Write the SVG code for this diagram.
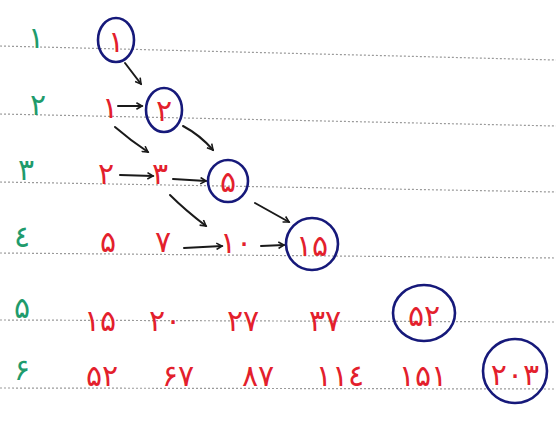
<svg xmlns="http://www.w3.org/2000/svg" width="556" height="425" viewBox="0 0 556 425">
<defs>
<style>
.rule{stroke:#9a9a9a;stroke-width:1.2;stroke-dasharray:2 2;fill:none}
.lbl{font-family:"DejaVu Sans",sans-serif;font-size:30px;fill:#1f9b6c;text-anchor:middle}
.num{font-family:"DejaVu Sans",sans-serif;font-size:30px;fill:#e3202c;text-anchor:middle}
.ring{fill:none;stroke:#16197a;stroke-width:2.6}
.arr{fill:none;stroke:#1a1a1a;stroke-width:2;stroke-linecap:round;marker-end:url(#h)}
</style>
<marker id="h" viewBox="0 0 10 10" refX="8" refY="5" markerWidth="4" markerHeight="4" orient="auto">
<path d="M1,1 L8,5 L1,9" fill="none" stroke="#1a1a1a" stroke-width="2"/>
</marker>
</defs>
<rect width="556" height="425" fill="#ffffff"/>
<g id="rules">
<line class="rule" x1="0" y1="46" x2="556" y2="60"/>
<line class="rule" x1="0" y1="114" x2="556" y2="126"/>
<line class="rule" x1="0" y1="182" x2="556" y2="192"/>
<line class="rule" x1="0" y1="253" x2="556" y2="258"/>
<line class="rule" x1="0" y1="320" x2="556" y2="322"/>
<line class="rule" x1="0" y1="388" x2="556" y2="389"/>
</g>
<g id="labels">
<text class="lbl" x="36" y="48">۱</text>
<text class="lbl" x="38" y="115">۲</text>
<text class="lbl" x="26" y="180">۳</text>
<text class="lbl" x="22" y="247">٤</text>
<text class="lbl" x="22" y="318">۵</text>
<text class="lbl" x="22" y="380">۶</text>
</g>
<g id="connectors">
<path class="arr" d="M125,63 L141,84"/>
<path class="arr" d="M118,106 L142,106"/>
<path class="arr" d="M115,127 Q130,140 148,152"/>
<path class="arr" d="M183,126 Q200,135 213,150"/>
<path class="arr" d="M120,175 L153,176"/>
<path class="arr" d="M173,179 L206,181"/>
<path class="arr" d="M170,195 Q185,210 206,226"/>
<path class="arr" d="M255,203 L289,222"/>
<path class="arr" d="M184,248 L222,246"/>
<path class="arr" d="M261,246 L284,245"/>
</g>
<g id="n1-1"><ellipse class="ring" cx="116" cy="40" rx="18" ry="22"/><text class="num" x="116" y="52">۱</text></g>
<g id="n2-1"><text class="num" x="110" y="118">۱</text></g>
<g id="n2-2"><ellipse class="ring" cx="164" cy="110" rx="18" ry="22"/><text class="num" x="164" y="121">۲</text></g>
<g id="n3-1"><text class="num" x="106" y="184">۲</text></g>
<g id="n3-2"><text class="num" x="160" y="184">۳</text></g>
<g id="n3-3"><ellipse class="ring" cx="228" cy="181" rx="20" ry="21"/><text class="num" x="228" y="192">۵</text></g>
<g id="n4-1"><text class="num" x="108" y="252">۵</text></g>
<g id="n4-2"><text class="num" x="163" y="252">۷</text></g>
<g id="n4-3"><text class="num" x="236" y="253">۱۰</text></g>
<g id="n4-4"><ellipse class="ring" cx="312" cy="244" rx="26" ry="26"/><text class="num" x="312" y="256">۱۵</text></g>
<g id="n5-1"><text class="num" x="100" y="331">۱۵</text></g>
<g id="n5-2"><text class="num" x="165" y="331">۲۰</text></g>
<g id="n5-3"><text class="num" x="243" y="331">۲۷</text></g>
<g id="n5-4"><text class="num" x="325" y="331">۳۷</text></g>
<g id="n5-5"><ellipse class="ring" cx="424" cy="313" rx="31" ry="28"/><text class="num" x="424" y="326">۵۲</text></g>
<g id="n6-1"><text class="num" x="102" y="386">۵۲</text></g>
<g id="n6-2"><text class="num" x="178" y="386">۶۷</text></g>
<g id="n6-3"><text class="num" x="258" y="386">۸۷</text></g>
<g id="n6-4"><text class="num" x="340" y="386">۱۱٤</text></g>
<g id="n6-5"><text class="num" x="423" y="386">۱۵۱</text></g>
<g id="n6-6"><ellipse class="ring" cx="515" cy="371" rx="32" ry="32"/><text class="num" x="515" y="385">۲۰۳</text></g>
</svg>
